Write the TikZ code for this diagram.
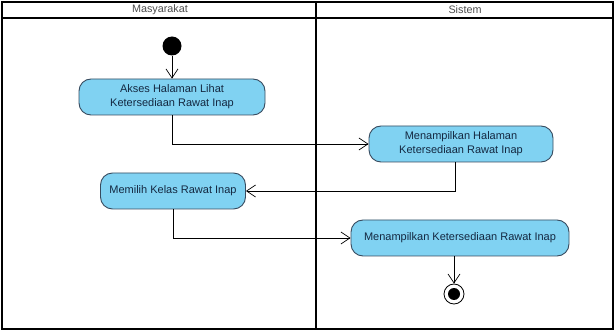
\documentclass[tikz,border=0pt]{standalone}
\usepackage{fontspec}
\setmainfont{Liberation Sans}
\usetikzlibrary{arrows.meta}

\definecolor{actfill}{RGB}{128,210,242}
\definecolor{actline}{RGB}{55,75,95}
\definecolor{acttext}{RGB}{20,40,65}

\tikzset{
    action/.style={draw=actline, fill=actfill, rounded corners=12pt, text=acttext,
        align=center, inner sep=0pt, minimum height=36pt, line width=0.9pt,
        font=\fontsize{11}{14}\selectfont},
    flow/.style={-{Straight Barb[length=9pt,width=12pt]}, line width=0.7pt},
    lane/.style={line width=1.5pt},
    lanetitle/.style={text=black!70, font=\fontsize{10.8}{12}\selectfont, inner sep=0pt},
    startnode/.style={circle, fill=black, minimum size=19pt, inner sep=0pt},
    endnode/.style={circle, draw=black, fill=white, line width=0.8pt, minimum size=20pt, inner sep=0pt},
}

\begin{document}
\begin{tikzpicture}[x=1pt,y=-1pt]
    \useasboundingbox (0,0) rectangle (616,331);

    % swimlanes
    \draw[lane] (2,2) rectangle (613,329);
    \draw[lane] (2,18) -- (613,18);
    \draw[lane] (316,2) -- (316,329);
    \node[lanetitle] (masy) at (160,10) {Masyarakat};
    \node[lanetitle] (sis) at (465,10) {Sistem};

    % actions
    \node[startnode] (start) at (172,46) {};
    \node[action, minimum width=186pt] (akses) at (172,97) {Akses Halaman Lihat\\Ketersediaan Rawat Inap};
    \node[action, minimum width=184pt] (tampilhal) at (461,144) {Menampilkan Halaman\\Ketersediaan Rawat Inap};
    \node[action, minimum width=145pt] (pilih) at (173,191) {Memilih Kelas Rawat Inap};
    \node[action, minimum width=218pt] (tampilket) at (460,238) {Menampilkan Ketersediaan Rawat Inap};
    \node[endnode] (stop) at (454,294) {};
    \fill (stop) circle (6pt);

    % flows
    \draw[flow] (start) -- (akses);
    \draw[flow] (akses) |- (tampilhal);
    \draw[flow] ([xshift=-6pt]tampilhal.south) |- (pilih);
    \draw[flow] (pilih) |- (tampilket);
    \draw[flow] ([xshift=-6pt]tampilket.south) -- (stop);

\end{tikzpicture}
\end{document}
